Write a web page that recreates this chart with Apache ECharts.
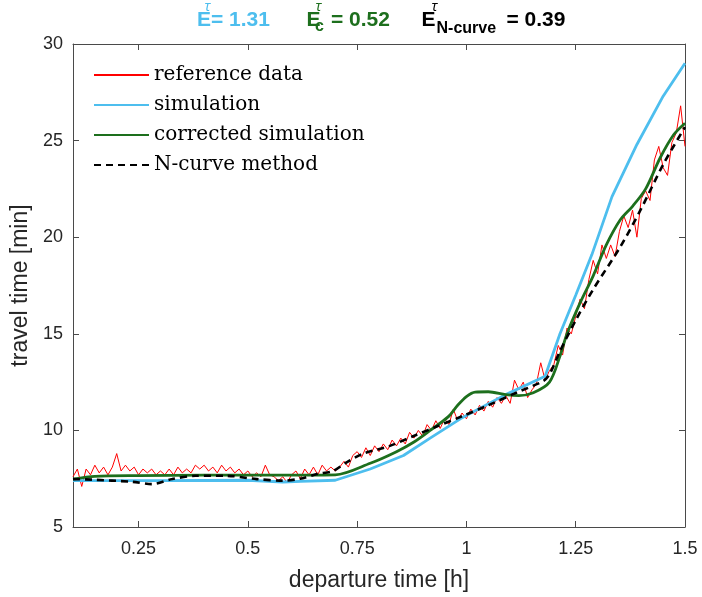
<!DOCTYPE html>
<html><head><meta charset="utf-8">
<script src="https://cdn.jsdelivr.net/npm/echarts@6/dist/echarts.min.js"></script>
<style>html,body{margin:0;padding:0;background:#fff}#c{width:702px;height:597px}</style>
</head><body><div id="c"></div>
<script>
// ---- data ----
const xTicks = [0.25, 0.5, 0.75, 1, 1.25, 1.5];
const seriesNames = ['reference data', 'simulation', 'corrected simulation', 'N-curve method'];

// reference data sampled every 0.01 h from 0.10 h
const refStart = 0.10, refStep = 0.01;
const refValues = [
 7.6, 8.0, 7.1, 8.0, 7.7, 8.2, 7.8, 8.1, 7.7, 8.1,
 8.8, 7.9, 8.2, 7.9, 8.1, 7.7, 8.0, 7.8, 8.0, 7.7,
 7.9, 7.7, 8.0, 7.7, 8.1, 7.8, 8.0, 7.8, 8.2, 8.0,
 8.2, 7.9, 8.1, 7.8, 8.2, 7.9, 8.1, 7.8, 8.0, 7.7,
 7.9, 7.6, 7.8, 7.6, 8.2, 7.7, 7.6, 7.4, 7.6, 7.3,
 7.7, 7.9, 7.5, 8.0, 7.7, 8.1, 7.7, 8.2, 7.9, 8.1,
 7.9,
 8.1, 8.4, 8.1, 8.7, 8.9, 8.6, 9.1, 8.7, 9.2, 8.9,
 9.3, 9.0, 9.5, 9.2, 9.6, 9.3, 9.9, 9.6, 10.0, 9.7,
 10.3, 10.0, 10.5, 10.1, 10.6, 10.3, 11.1, 10.5, 10.9, 10.6,
 11.1, 10.8, 11.3, 11.0, 11.5, 11.2, 11.7, 11.4, 11.8, 11.4,
 12.6, 12.1, 12.5, 11.7, 12.1, 12.4, 13.5, 12.6, 13.1, 13.4,
 14.4, 13.9, 15.3, 15.0, 15.9, 16.8, 16.3, 17.8, 18.8, 18.1,
 19.6, 18.9, 19.6, 19.0, 20.3, 21.1, 20.5, 21.4, 20.0, 22.0,
 22.4, 21.9, 24.0, 24.7, 23.6, 23.2, 24.9, 25.4, 26.8, 24.7
];

const simTime  = [0.10, 0.30, 0.50, 0.58, 0.62, 0.70, 0.78, 0.856, 0.917, 0.986, 1.085, 1.18, 1.214, 1.25, 1.287, 1.333, 1.39, 1.45, 1.50];
const simValue = [7.40, 7.40, 7.42, 7.33, 7.36, 7.42, 8.00, 8.70, 9.60, 10.60, 11.80, 12.80, 15.00, 17.00, 19.10, 22.10, 24.80, 27.30, 29.00];

const corTime  = [0.10, 0.15, 0.25, 0.40, 0.55, 0.70, 0.78, 0.84, 0.88, 0.917, 0.958, 0.98, 1.00, 1.02, 1.05, 1.09, 1.12, 1.153, 1.19, 1.214, 1.23, 1.26, 1.29, 1.32, 1.352, 1.38, 1.41, 1.443, 1.474, 1.50];
const corValue = [7.48, 7.62, 7.66, 7.68, 7.68, 7.70, 8.30, 8.90, 9.40, 10.00, 10.70, 11.30, 11.75, 11.98, 12.00, 11.85, 11.80, 11.95, 12.50, 13.85, 15.00, 16.60, 18.00, 19.60, 20.90, 21.60, 22.50, 24.10, 25.30, 25.90];

const ncTime  = [0.10, 0.143, 0.235, 0.28, 0.327, 0.38, 0.45, 0.52, 0.58, 0.62, 0.658, 0.695, 0.726, 0.764, 0.825, 0.878, 0.932, 0.992, 1.047, 1.115, 1.176, 1.19, 1.214, 1.25, 1.29, 1.352, 1.398, 1.451, 1.50];
const ncValue = [7.48, 7.45, 7.34, 7.22, 7.48, 7.65, 7.65, 7.48, 7.40, 7.50, 7.74, 7.90, 8.35, 8.80, 9.20, 9.70, 10.20, 10.75, 11.27, 11.96, 12.56, 12.90, 14.10, 15.70, 17.30, 19.50, 21.40, 23.80, 25.70];

// ---- build ----
const zip = (xs, ys) => xs.map((x, i) => [x, ys[i]]);
const refData = refValues.map((v, i) => [+(refStart + i * refStep).toFixed(3), v]);

const BLUE = '#4DBEEE', GREEN = '#1D6F1D', AX = '#4a4a4a', TXT = '#262626';
const chart = echarts.init(document.getElementById('c'));

const tFont = '"Liberation Sans", Arial, sans-serif';
function t(x, y, text, size, color, bold, italic, fam) {
  return { type: 'text', x: x, y: y, silent: true,
    style: { text: text, fill: color, font: (italic ? 'italic ' : '') + (bold ? 'bold ' : '') + size + 'px ' + (fam || tFont), verticalAlign: 'top', align: 'left' } };
}
const tauFam = '"Noto Sans", "DejaVu Sans", sans-serif';

const axisLineStyle = { show: true, lineStyle: { color: AX, width: 1 } };
const tickStyle = { show: true, inside: true, length: 6, lineStyle: { color: AX, width: 1 } };

chart.setOption({
  animation: false,
  backgroundColor: '#fff',
  grid: { left: 73, right: 17, top: 44, bottom: 69 },
  graphic: [
    t(197, 10, 'E', 21, BLUE, true), t(204.5, 0, 'τ', 14, BLUE, false, true, tauFam), t(211, 10, '= 1.31', 21, BLUE, true),
    t(306.5, 10, 'E', 21, GREEN, true), t(315.5, 0, 'τ', 14, GREEN, false, true, tauFam), t(315, 19, 'c', 16, GREEN, true), t(331, 10, '= 0.52', 21, GREEN, true),
    t(421.5, 10, 'E', 21, '#000', true), t(431.5, 0, 'τ', 14, '#000', false, true, tauFam), t(436.5, 21, 'N-curve', 16, '#000', true), t(506.5, 10, '= 0.39', 21, '#000', true)
  ],
  legend: {
    data: seriesNames, orient: 'vertical', left: 93, top: 65, padding: 0,
    itemWidth: 55, itemHeight: 20, itemGap: 10,
    itemStyle: { opacity: 0 },
    textStyle: { fontFamily: '"DejaVu Serif", serif', fontSize: 20, color: '#000' }
  },
  xAxis: [
    { type: 'value', min: 0.1, max: 1.5, position: 'bottom',
      name: 'departure time [h]', nameLocation: 'middle', nameGap: 42,
      nameTextStyle: { fontFamily: tFont, fontSize: 23, color: TXT },
      axisLine: axisLineStyle, axisTick: Object.assign({ customValues: xTicks }, tickStyle),
      axisLabel: { customValues: xTicks, margin: 13, fontFamily: tFont, fontSize: 18, color: TXT },
      splitLine: { show: false } },
    { type: 'value', min: 0.1, max: 1.5, position: 'top',
      axisLine: axisLineStyle, axisTick: Object.assign({ customValues: xTicks }, tickStyle),
      axisLabel: { show: false }, splitLine: { show: false } }
  ],
  yAxis: [
    { type: 'value', min: 5, max: 30, interval: 5, position: 'left',
      name: 'travel time [min]', nameLocation: 'middle', nameGap: 37,
      nameTextStyle: { fontFamily: tFont, fontSize: 23, color: TXT },
      axisLine: axisLineStyle, axisTick: tickStyle,
      axisLabel: { margin: 10, fontFamily: tFont, fontSize: 18, color: TXT },
      splitLine: { show: false } },
    { type: 'value', min: 5, max: 30, interval: 5, position: 'right',
      axisLine: axisLineStyle, axisTick: tickStyle,
      axisLabel: { show: false }, splitLine: { show: false } }
  ],
  series: [
    { name: seriesNames[0], type: 'line', data: refData, symbol: 'none', color: '#FF0000',
      lineStyle: { width: 1, color: '#FF0000' }, z: 2 },
    { name: seriesNames[1], type: 'line', data: zip(simTime, simValue), symbol: 'none', color: BLUE,
      lineStyle: { width: 2.8, color: BLUE }, z: 3 },
    { name: seriesNames[2], type: 'line', data: zip(corTime, corValue), symbol: 'none', smooth: 0.3, color: GREEN,
      lineStyle: { width: 2.8, color: GREEN }, z: 4 },
    { name: seriesNames[3], type: 'line', data: zip(ncTime, ncValue), symbol: 'none', smooth: 0.3, color: '#000',
      lineStyle: { width: 2.6, color: '#000', type: [7, 5] }, z: 5 }
  ]
});
</script>
</body></html>
